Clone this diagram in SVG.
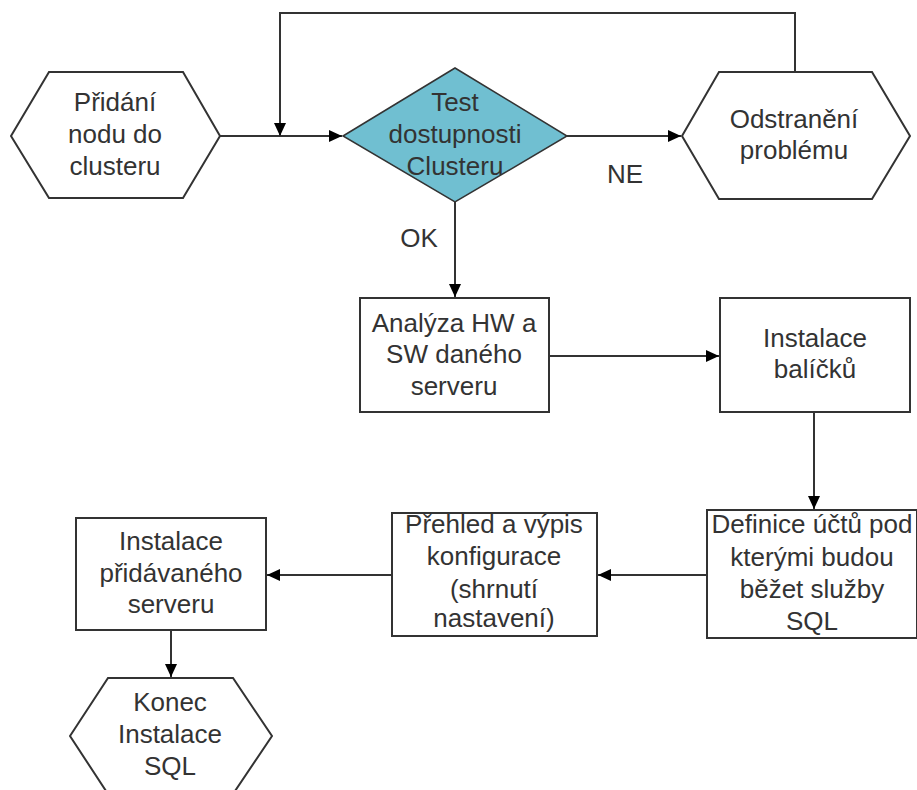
<svg xmlns="http://www.w3.org/2000/svg" width="917" height="790" viewBox="0 0 917 790">
<style>
.shape{fill:#fff;stroke:#333;stroke-width:2}
.dec{fill:#70bfd1;stroke:#333;stroke-width:1.5}
.conn{fill:none;stroke:#333;stroke-width:2}
text{font-family:"Liberation Sans",Arial,sans-serif;font-size:26px;fill:#333;text-anchor:middle}
</style>
<defs>
<marker id="arr" markerUnits="userSpaceOnUse" markerWidth="14" markerHeight="12" refX="13" refY="6" orient="auto">
<path d="M0,0 L13,6 L0,12 z" fill="#000"/>
</marker>
</defs>
<rect width="917" height="790" fill="#fff"/>
<g id="connectors">
<path class="conn" d="M220,136 L342,136" marker-end="url(#arr)"/>
<path class="conn" d="M795,72 L795,13 L280,13 L280,136" marker-end="url(#arr)"/>
<path class="conn" d="M567,136 L681,136" marker-end="url(#arr)"/>
<path class="conn" d="M455,202 L455,297" marker-end="url(#arr)"/>
<path class="conn" d="M549,356 L719,356" marker-end="url(#arr)"/>
<path class="conn" d="M814,412 L814,509" marker-end="url(#arr)"/>
<path class="conn" d="M707,575 L598,575" marker-end="url(#arr)"/>
<path class="conn" d="M392,575 L267,575" marker-end="url(#arr)"/>
<path class="conn" d="M171,630 L171,677" marker-end="url(#arr)"/>
<text x="625" y="183">NE</text>
<text x="419" y="247">OK</text>
</g>
<g id="n1">
<polygon class="shape" points="11,136 49,72 183,72 220,136 183,198 49,198"/>
<text x="115" y="111">Přidání</text>
<text x="115" y="143">nodu do</text>
<text x="115" y="175">clusteru</text>
</g>
<g id="n2">
<polygon class="dec" points="343,136 455,68 567,136 455,202"/>
<text x="455" y="111">Test</text>
<text x="455" y="143">dostupnosti</text>
<text x="455" y="175">Clusteru</text>
</g>
<g id="n3">
<polygon class="shape" points="682,136 719,72 872,72 910,136 872,199 719,199"/>
<text x="794" y="128">Odstranění</text>
<text x="794" y="159">problému</text>
</g>
<g id="n4">
<rect class="shape" x="360" y="298" width="189" height="114"/>
<text x="454" y="332">Analýza HW a</text>
<text x="454" y="363">SW daného</text>
<text x="454" y="395">serveru</text>
</g>
<g id="n5">
<rect class="shape" x="720" y="298" width="190" height="114"/>
<text x="815" y="347">Instalace</text>
<text x="815" y="378">balíčků</text>
</g>
<g id="n6">
<rect class="shape" x="707" y="510" width="210" height="128"/>
<text x="812" y="533">Definice účtů pod</text>
<text x="812" y="566">kterými budou</text>
<text x="812" y="598">běžet služby</text>
<text x="812" y="630">SQL</text>
</g>
<g id="n7">
<rect class="shape" x="392" y="513" width="205" height="123"/>
<text x="494" y="533">Přehled a výpis</text>
<text x="494" y="565">konfigurace</text>
<text x="494" y="598">(shrnutí</text>
<text x="494" y="627">nastavení)</text>
</g>
<g id="n8">
<rect class="shape" x="76" y="518" width="190" height="112"/>
<text x="171" y="550">Instalace</text>
<text x="171" y="582">přidávaného</text>
<text x="171" y="613">serveru</text>
</g>
<g id="n9">
<polygon class="shape" points="70,736 108,678 233,678 272,736 233,794 108,794"/>
<text x="170" y="711">Konec</text>
<text x="170" y="743">Instalace</text>
<text x="170" y="775">SQL</text>
</g>
</svg>
